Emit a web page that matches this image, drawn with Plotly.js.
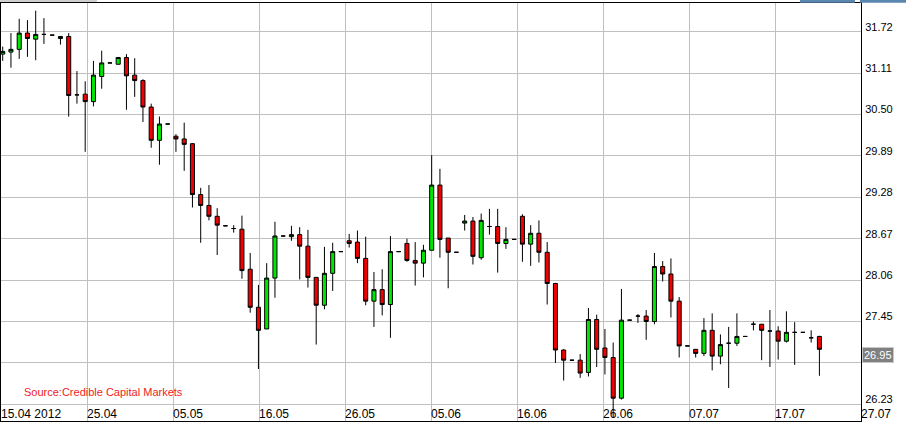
<!DOCTYPE html>
<html><head><meta charset="utf-8">
<script src="https://cdn.plot.ly/plotly-3.0.1.min.js"></script>
<style>html,body{margin:0;padding:0;background:#fff;overflow:hidden}#chart{width:906px;height:422px}</style>
</head><body><div id="chart"></div>
<script>
const openP = [31.39,31.42,31.46,31.70,31.61,31.68,31.67,31.62,31.65,30.79,
 30.80,30.69,31.06,31.26,31.24,31.34,31.08,31.00,30.61,30.12,
 30.36,30.18,30.14,30.07,29.32,29.16,29.00,28.86,28.82,28.81,
 28.22,27.66,27.34,28.09,28.71,28.70,28.73,28.56,28.10,27.69,
 28.16,28.48,28.64,28.62,28.38,27.75,27.92,27.70,28.48,28.60,
 28.35,28.31,28.50,29.46,28.68,28.47,28.90,28.93,28.39,28.85,
 28.85,28.60,28.66,29.00,28.59,28.75,28.47,28.01,27.03,26.88,
 26.88,26.70,27.48,27.06,26.92,26.32,27.47,27.53,27.53,27.45,
 28.26,28.15,27.75,27.09,27.04,26.98,27.32,26.94,27.13,27.13,
 27.23,27.41,27.41,27.31,27.31,27.16,27.29,27.29,27.21,27.23];
const highP = [31.50,31.70,31.91,31.89,32.03,31.92,31.67,31.65,31.70,31.14,
 30.99,31.29,31.44,31.26,31.34,31.39,31.33,31.02,30.66,30.47,
 30.36,30.21,30.38,30.08,29.42,29.46,29.12,28.86,28.87,29.01,
 28.46,27.99,28.31,28.92,28.71,28.86,28.84,28.80,28.10,28.55,
 28.61,28.48,28.74,28.79,28.70,28.18,28.22,28.71,28.48,28.67,
 28.62,28.58,29.90,29.70,28.68,28.47,29.02,28.99,29.04,29.11,
 29.11,28.84,28.66,29.03,28.87,28.94,28.62,28.02,27.04,26.88,
 26.97,27.65,27.55,27.34,27.14,27.93,27.47,27.56,27.62,28.46,
 28.34,28.38,27.81,27.09,27.04,27.50,27.57,27.26,27.37,27.57,
 27.23,27.45,27.41,27.62,27.38,27.60,27.44,27.29,27.32,27.24];
const lowP = [31.29,31.19,31.32,31.35,31.30,31.54,31.67,31.53,30.47,30.66,
 29.95,30.62,30.88,31.26,31.24,30.57,30.76,30.39,30.01,29.76,
 30.36,29.95,29.67,29.13,28.61,28.94,28.43,28.86,28.76,28.08,
 27.58,26.75,27.34,27.80,28.71,28.64,28.07,27.95,27.11,27.63,
 27.90,28.48,28.54,28.31,27.69,27.37,27.54,27.21,28.48,28.33,
 27.98,28.10,28.50,28.39,27.94,28.47,28.79,28.29,28.36,28.73,
 28.17,28.52,28.66,28.33,28.27,28.32,27.70,26.84,26.58,26.88,
 26.62,26.64,26.78,26.67,26.03,26.30,27.47,27.43,27.18,27.41,
 28.04,27.51,26.92,27.09,26.92,26.94,26.73,26.82,26.47,27.09,
 27.23,27.32,26.88,26.78,26.89,27.14,26.81,27.29,27.14,26.65];
const closeP = [31.43,31.46,31.70,31.62,31.68,31.68,31.67,31.65,30.78,30.79,
 30.69,31.08,31.26,31.26,31.34,31.07,31.00,30.61,30.12,30.36,
 30.36,30.14,30.06,29.32,29.16,29.00,28.87,28.86,28.82,28.20,
 27.66,27.32,28.09,28.71,28.71,28.73,28.56,28.10,27.69,28.16,
 28.48,28.48,28.60,28.38,27.75,27.92,27.70,28.48,28.48,28.35,
 28.31,28.50,29.46,28.66,28.47,28.47,28.93,28.41,28.94,28.85,
 28.60,28.66,28.66,28.59,28.75,28.47,28.01,27.03,26.88,26.88,
 26.69,27.48,27.04,26.92,26.32,27.47,27.47,27.53,27.45,28.26,
 28.15,27.75,27.09,27.09,26.98,27.32,26.94,27.11,27.13,27.23,
 27.23,27.41,27.32,27.31,27.16,27.29,27.29,27.29,27.21,27.04];
const xTickText = ['15.04 2012','25.04','05.05','16.05','26.05','05.06','16.06','26.06','07.07','17.07','27.07'];
const yTickVals = [26.23, 26.84, 27.45, 28.06, 28.67, 29.28, 29.89, 30.50, 31.11, 31.72];
const yTickText = ['26.23','','27.45','28.06','28.67','29.28','29.89','30.50','31.11','31.72'];
const lastPrice = 26.95;
const sourceText = 'Source:Credible Capital Markets';

const xRange = [-0.206, 104.04];
const yRange = [25.984, 32.143];
const nT = xTickText.length;
const xGrid = xTickText.map((t, k) => xRange[0] + k * (xRange[1] - xRange[0]) / (nT - 1));

const trace = {
  type: 'candlestick',
  open: openP, high: highP, low: lowP, close: closeP,
  increasing: {line: {color: '#000000', width: 1}, fillcolor: '#00e600'},
  decreasing: {line: {color: '#000000', width: 1}, fillcolor: '#f00000'},
  whiskerwidth: 0,
  hoverinfo: 'skip'
};

const annotations = xTickText.map((t, k) => ({
  text: t, xref: 'paper', yref: 'paper', x: k / (nT - 1), y: 0.0167,
  xanchor: 'left', yanchor: 'middle', showarrow: false,
  borderpad: 0, borderwidth: 0, xshift: 0,
  font: {family: 'Liberation Sans, Arial, sans-serif', size: 12, color: '#000'}
}));
annotations.push({
  text: sourceText, xref: 'paper', yref: 'paper', x: 0.0267, y: 0.0687,
  xanchor: 'left', yanchor: 'middle', showarrow: false, borderpad: 0, borderwidth: 0,
  font: {family: 'Liberation Sans, Arial, sans-serif', size: 11, color: '#f01c1c'}
});
annotations.push({
  text: lastPrice.toFixed(2), xref: 'paper', yref: 'y', x: 1, y: lastPrice,
  xanchor: 'left', yanchor: 'middle', showarrow: false, xshift: 1,
  bgcolor: '#808080', bordercolor: '#c8c8c8', borderwidth: 1, borderpad: 1,
  font: {family: 'Liberation Sans, Arial, sans-serif', size: 11, color: '#ffffff'}
});

const layout = {
  width: 906, height: 422,
  margin: {l: 1, r: 45, t: 3, b: 1, pad: 0},
  paper_bgcolor: '#ffffff', plot_bgcolor: '#ffffff',
  showlegend: false,
  boxgap: 0.3,
  xaxis: {
    range: xRange, tickmode: 'array', tickvals: xGrid, showticklabels: false, ticks: '',
    showgrid: true, gridcolor: '#c0c0c0', gridwidth: 1, zeroline: false,
    showline: true, mirror: true, linecolor: '#000000', linewidth: 1,
    rangeslider: {visible: false}, fixedrange: true
  },
  yaxis: {
    side: 'right', range: yRange, tickmode: 'array', tickvals: yTickVals, ticktext: yTickText,
    tickfont: {family: 'Liberation Sans, Arial, sans-serif', size: 11, color: '#000'},
    ticks: '', ticklabelshift: -5, ticklabelstandoff: 1,
    showgrid: true, gridcolor: '#c0c0c0', gridwidth: 1, zeroline: false,
    showline: true, mirror: true, linecolor: '#000000', linewidth: 1, fixedrange: true
  },
  annotations: annotations,
  shapes: [
    {type: 'rect', xref: 'paper', yref: 'paper', x0: 0.9291, x1: 0.9930, y0: 1.0007, y1: 1.0072, fillcolor: '#5a86b0', line: {width: 0}},
    {type: 'rect', xref: 'paper', yref: 'paper', x0: 0.9988, x1: 1.0535, y0: 1.0007, y1: 1.0072, fillcolor: '#5a86b0', line: {width: 0}},
    {type: 'line', xref: 'paper', yref: 'paper', x0: -0.001, x1: 0.1116, y0: 1.0048, y1: 1.0048, line: {color: '#a0a0a0', width: 1}}
  ]
};

Plotly.newPlot('chart', [trace], layout, {displayModeBar: false, staticPlot: true});
</script>
</body></html>
